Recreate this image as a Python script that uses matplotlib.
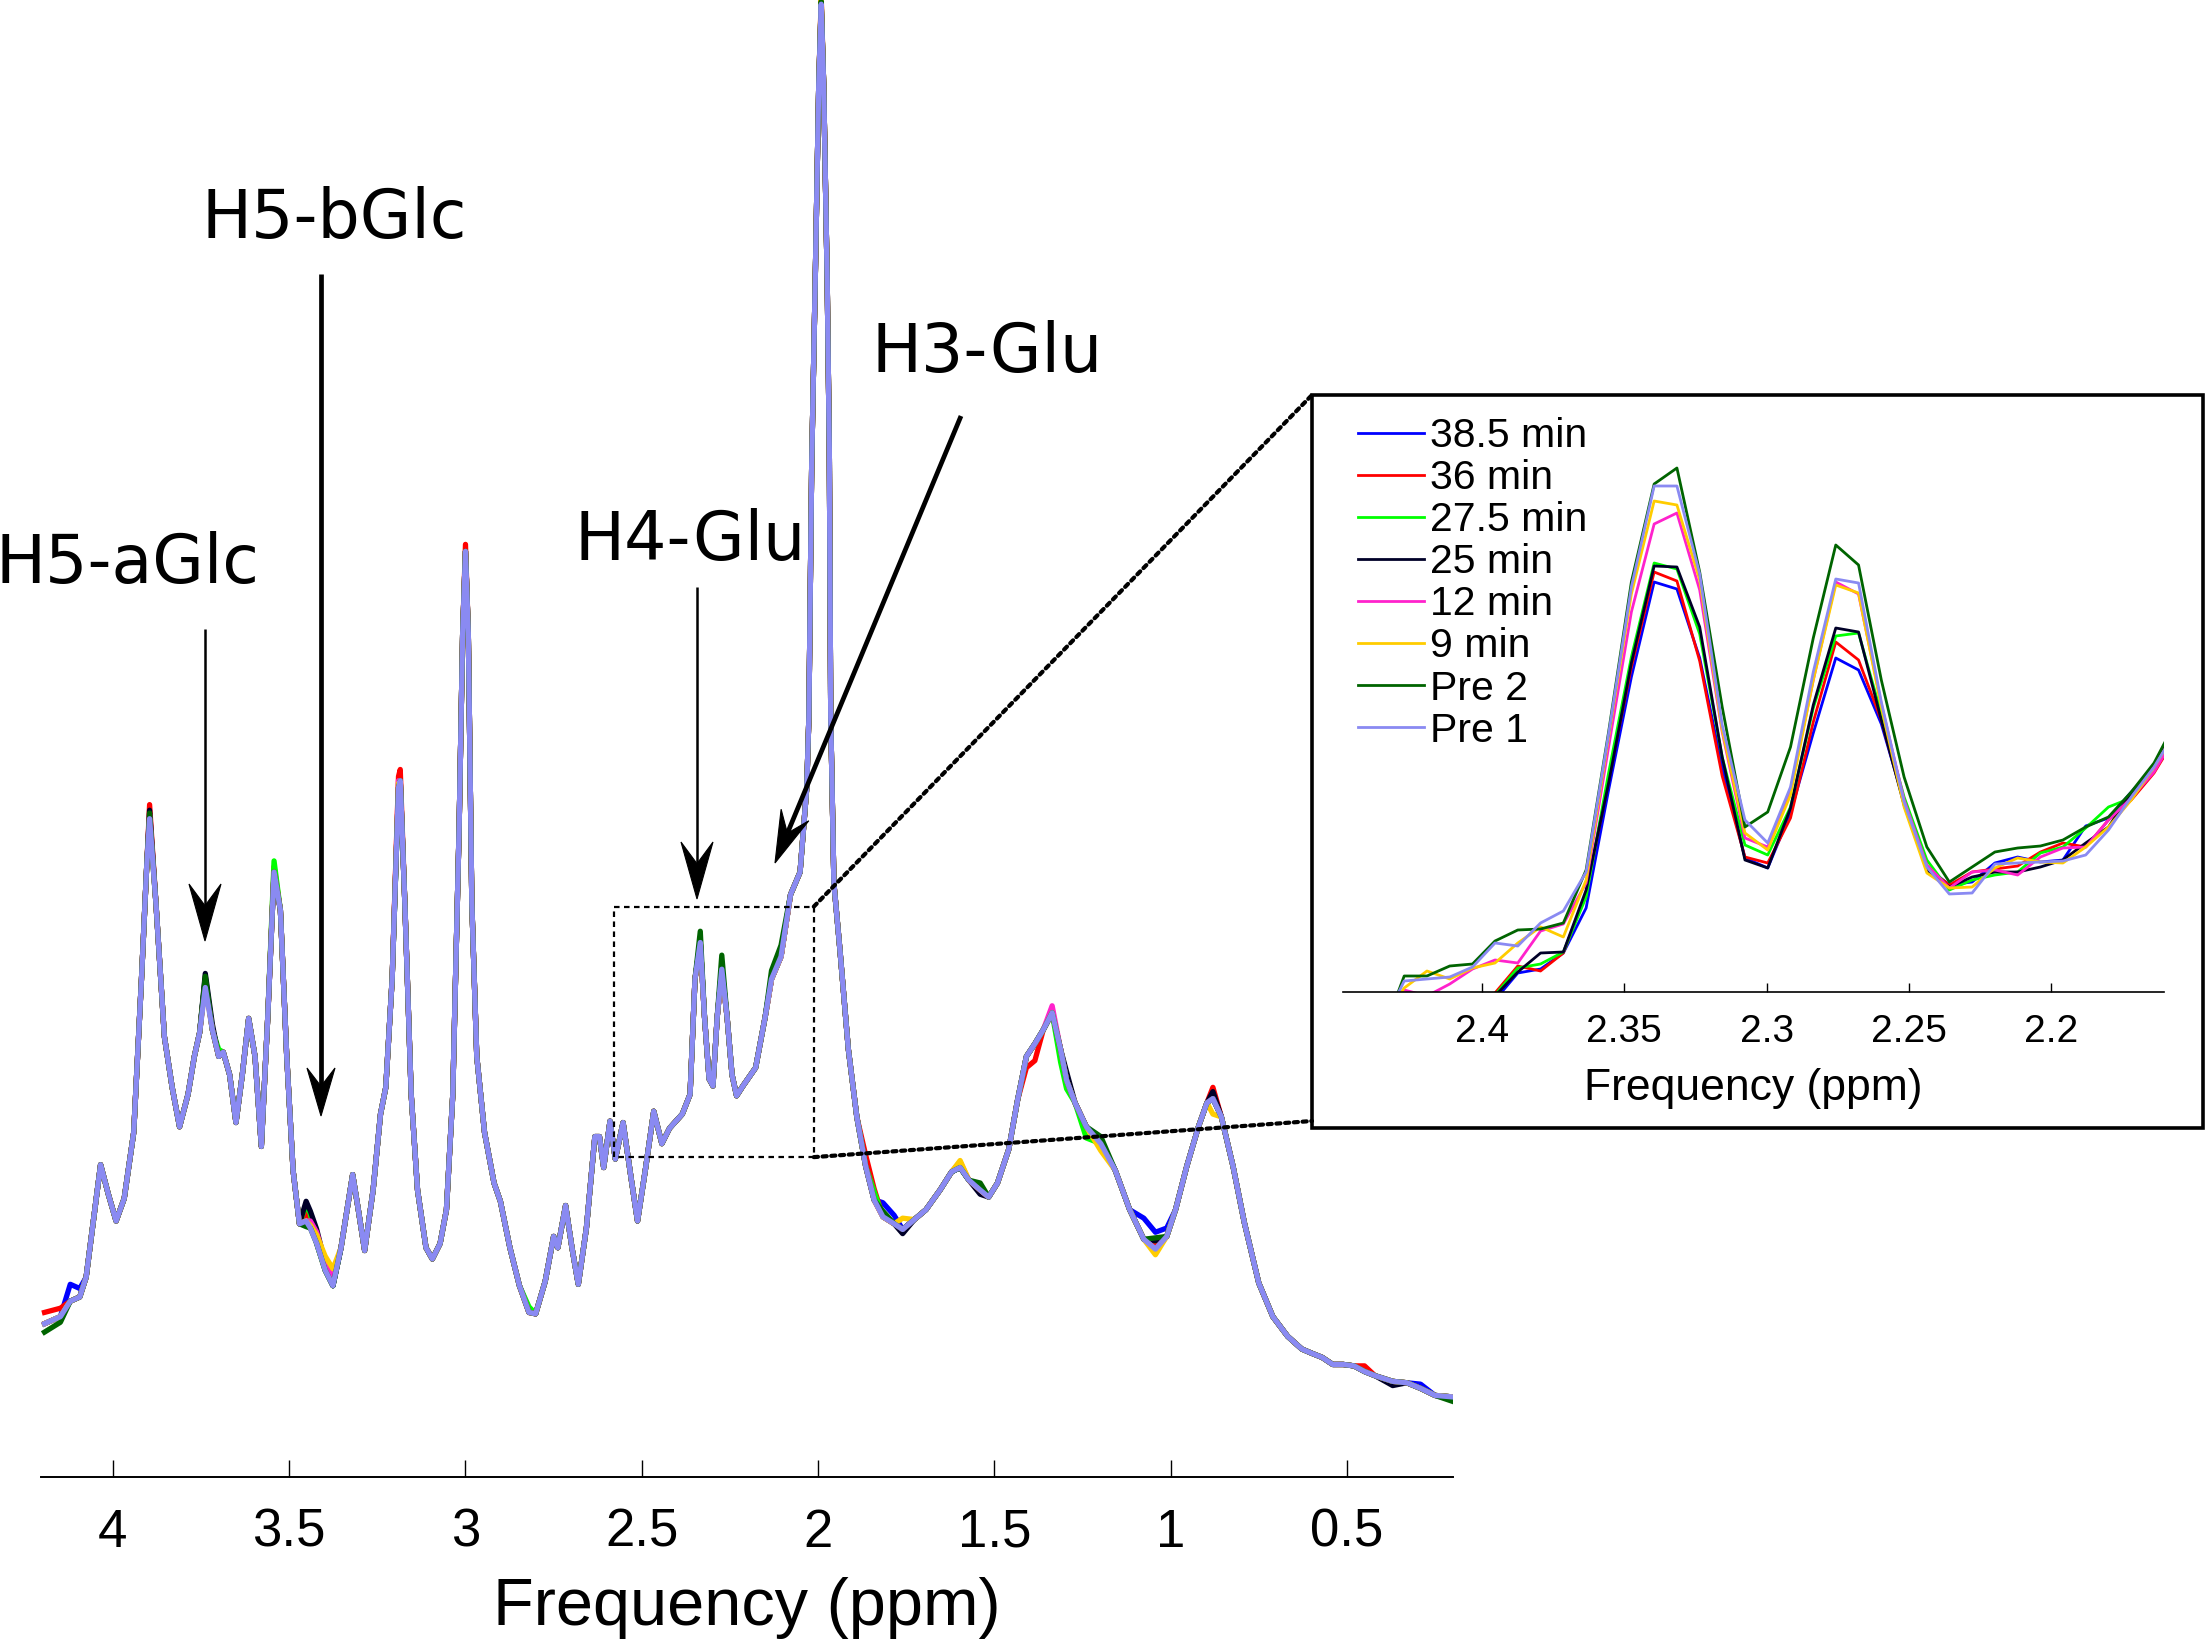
import numpy as np
import matplotlib
matplotlib.use("Agg")
import matplotlib.pyplot as plt
from matplotlib.patches import Rectangle, ConnectionPatch, Polygon
from matplotlib.lines import Line2D

plt.rcParams['font.family'] = ['Liberation Sans', 'DejaVu Sans']

W, H = 2206, 1642

# acquisitions, legend order (Pre 1 is drawn last, on top)
labels = ['38.5 min', '36 min', '27.5 min', '25 min', '12 min', '9 min', 'Pre 2', 'Pre 1']
colors = ['#0000ff', '#ff0000', '#00ff00', '#000028', '#ff22cc', '#ffcc00', '#006400', '#8a8af2']

# main spectrum, Pre 1 trace (ppm, a.u.)
main_ppm = [4.194, 4.149, 4.121, 4.094, 4.076, 4.058, 4.035, 4.013, 3.991, 3.968,
            3.941, 3.919, 3.904, 3.896, 3.878, 3.854, 3.832, 3.811, 3.787, 3.769,
            3.754, 3.738, 3.718, 3.700, 3.687, 3.669, 3.651, 3.633, 3.615, 3.597,
            3.579, 3.561, 3.543, 3.525, 3.507, 3.489, 3.471, 3.452, 3.440, 3.422,
            3.398, 3.376, 3.353, 3.320, 3.304, 3.286, 3.262, 3.241, 3.226, 3.208,
            3.190, 3.185, 3.172, 3.154, 3.136, 3.112, 3.094, 3.072, 3.054, 3.036,
            3.018, 3.008, 3.000, 2.992, 2.982, 2.968, 2.946, 2.919, 2.901, 2.874,
            2.847, 2.820, 2.801, 2.774, 2.750, 2.738, 2.716, 2.698, 2.680, 2.657,
            2.633, 2.620, 2.608, 2.590, 2.575, 2.553, 2.530, 2.512, 2.490, 2.466,
            2.443, 2.421, 2.385, 2.363, 2.349, 2.334, 2.322, 2.309, 2.298, 2.286,
            2.273, 2.258, 2.244, 2.231, 2.213, 2.177, 2.150, 2.132, 2.105, 2.078,
            2.051, 2.032, 2.026, 2.018, 2.008, 1.998, 1.991, 1.984, 1.974, 1.968,
            1.964, 1.955, 1.938, 1.914, 1.890, 1.865, 1.841, 1.816, 1.784, 1.760,
            1.727, 1.694, 1.654, 1.621, 1.597, 1.572, 1.540, 1.516, 1.491, 1.459,
            1.434, 1.409, 1.385, 1.361, 1.336, 1.312, 1.295, 1.271, 1.239, 1.198,
            1.157, 1.116, 1.076, 1.043, 1.011, 0.986, 0.954, 0.921, 0.897, 0.880,
            0.856, 0.823, 0.791, 0.750, 0.710, 0.668, 0.628, 0.600, 0.570, 0.540,
            0.510, 0.480, 0.450, 0.420, 0.370, 0.330, 0.291, 0.250, 0.203]
main_pre1 = [109, 114, 125, 128, 142, 177, 222, 201, 182, 198,
             245, 354, 435, 468, 408, 313, 277, 249, 272, 299,
             316, 348, 318, 299, 302, 286, 252, 286, 326, 299,
             235, 326, 430, 403, 299, 218, 180, 182, 177, 166,
             147, 136, 163, 215, 190, 161, 204, 258, 277, 354,
             490, 495, 408, 272, 204, 163, 155, 166, 190, 272,
             462, 600, 658, 600, 408, 299, 245, 209, 196, 163,
             136, 117, 116, 139, 171, 163, 193, 163, 137, 177,
             242, 242, 220, 253, 226, 252, 212, 182, 218, 260,
             237, 248, 258, 272, 354, 380, 327, 283, 278, 327,
             361, 327, 286, 271, 278, 291, 327, 354, 370, 414,
             430, 490, 540, 720, 850, 990, 1047, 990, 850, 730,
             540, 422, 375, 304, 256, 221, 197, 185, 180, 176,
             183, 190, 204, 217, 220, 211, 204, 199, 209, 233,
             268, 299, 308, 318, 330, 304, 282, 266, 249, 237,
             218, 190, 169, 162, 171, 190, 221, 249, 266, 269,
             256, 221, 181, 138, 114, 100, 91, 88, 85, 80,
             80, 79, 75, 72, 68, 67, 63, 58, 57]

# offsets of the other acquisitions from Pre 1, (ppm, a.u.)
dev_385 = [(4.121, 12), (4.094, 6), (3.738, 6), (3.452, 6), (3.440, 10), (3.422, 6),
           (2.820, 2), (1.816, 10), (1.784, 6), (1.076, 15), (1.043, 12), (1.011, 6),
           (0.880, 3), (0.291, 3)]
dev_36 = [(4.194, 8), (4.149, 6), (3.896, 10), (3.738, 6), (3.543, 4), (3.452, 6),
          (3.440, 6), (3.190, 8), (3.185, 8), (3.000, 5), (1.991, 5), (1.865, 8),
          (1.841, 8), (1.409, -8), (1.385, -12), (1.043, 4), (0.880, 8), (0.450, 4)]
dev_275 = [(3.738, 6), (3.700, 5), (3.543, 8), (3.452, 12), (3.440, 10), (2.820, 4),
           (1.841, 6), (1.312, -9), (1.295, -6), (1.239, -8), (1.043, 6)]
dev_25 = [(3.896, 6), (3.738, 10), (3.718, 4), (3.452, 14), (3.440, 12), (3.422, 10),
          (3.398, 5), (1.760, -3), (1.540, -3), (1.295, 6), (1.043, 6), (0.880, 5),
          (0.370, -3)]
dev_12 = [(3.896, 3), (3.738, 4), (3.440, 5), (3.422, 8), (3.398, 6), (3.376, 5),
          (3.190, 5), (1.597, 4), (1.336, 5), (0.203, -2)]
dev_9 = [(3.738, 2), (3.440, 2), (3.422, 6), (3.398, 10), (3.376, 12), (3.190, 3),
         (1.991, 3), (1.760, 8), (1.597, 5), (1.198, -5), (1.043, -4), (0.880, -11)]
dev_pre2 = [(4.194, -6), (4.149, -4), (3.896, 4), (3.738, 8), (3.452, -4), (2.334, 8),
            (2.273, 10), (2.132, 6), (2.105, 8), (1.991, 2), (1.816, 4), (1.540, 5),
            (1.198, 5), (1.043, 8), (0.203, -3)]
dev_pre1 = []

# inset: 2.16-2.45 ppm, raw points
ins_ppm = [2.4353, 2.4273, 2.4193, 2.4113, 2.4033, 2.3954, 2.3874, 2.3794, 2.3714, 2.3634,
           2.3555, 2.3475, 2.3395, 2.3315, 2.3235, 2.3156, 2.3076, 2.2996, 2.2916, 2.2836,
           2.2757, 2.2677, 2.2597, 2.2517, 2.2437, 2.2358, 2.2278, 2.2198, 2.2118, 2.2038,
           2.1959, 2.1879, 2.1799, 2.1719, 2.1639, 2.1560]
ins_385 = [-90, -70, -50, -35, -20, -8, 19, 23, 39, 84, 202, 315, 410, 403, 334, 225, 134, 124,
           179, 259, 334, 322, 268, 190, 125, 107, 110, 129, 135, 130, 132, 166, 174, 200, 225, 262]
ins_36 = [-90, -70, -50, -35, -20, -1, 26, 21, 39, 99, 212, 325, 420, 411, 331, 216, 135, 129,
          174, 270, 350, 332, 272, 189, 124, 107, 120, 123, 126, 140, 149, 145, 172, 192, 219, 256]
ins_275 = [-90, -70, -50, -35, -20, -3, 24, 28, 40, 95, 219, 335, 429, 423, 358, 235, 147, 137,
           185, 284, 356, 359, 278, 195, 132, 102, 112, 117, 120, 139, 145, 164, 185, 194, 225, 262]
ins_25 = [-90, -70, -50, -35, -20, -4, 20, 39, 40, 102, 209, 329, 426, 425, 365, 235, 132, 124,
          184, 287, 364, 360, 272, 187, 122, 105, 115, 120, 120, 125, 132, 149, 165, 199, 227, 264]
ins_12 = [-20, 2, -4, 8, 23, 32, 29, 61, 68, 109, 245, 380, 468, 479, 402, 260, 154, 145,
          202, 312, 410, 398, 288, 192, 127, 104, 120, 122, 117, 135, 144, 145, 172, 194, 220, 258]
ins_9 = [-30, 4, 21, 13, 24, 29, 49, 65, 55, 112, 255, 398, 491, 487, 412, 262, 159, 142,
         197, 312, 407, 399, 285, 185, 119, 104, 105, 124, 134, 130, 129, 145, 165, 192, 225, 262]
ins_pre2 = [-45, 16, 16, 26, 28, 51, 62, 63, 69, 122, 260, 410, 508, 524, 420, 285, 165, 180,
            245, 354, 447, 427, 312, 215, 145, 110, 125, 140, 144, 146, 152, 165, 175, 200, 229, 272]
ins_pre1 = [-35, 11, 13, 15, 25, 49, 46, 69, 81, 120, 258, 405, 506, 506, 418, 267, 172, 149,
            205, 320, 413, 409, 290, 190, 125, 98, 99, 128, 129, 130, 131, 137, 162, 195, 225, 262]

main_ticks = [4, 3.5, 3, 2.5, 2, 1.5, 1, 0.5]
main_ticklabels = ['4', '3.5', '3', '2.5', '2', '1.5', '1', '0.5']
ins_ticks = [2.4, 2.35, 2.3, 2.25, 2.2]
ins_ticklabels = ['2.4', '2.35', '2.3', '2.25', '2.2']

# peak labels: text, text position, arrow tail, arrow tip (figure pixels from top-left)
peaks = ['H5-aGlc', 'H5-bGlc', 'H4-Glu', 'H3-Glu']
peak_text_xy = [(-4, 583), (202, 238), (575, 560), (872, 372)]
peak_tail = [(205, 629), (321, 274), (697, 587), (961, 416)]
peak_tip = [(205, 941), (321, 1116), (697, 899), (775, 863)]
peak_lw = [1.8, 3.4, 1.8, 3.4]
peak_head = [(57, 16), (48, 14), (57, 16), (52, 15)]  # length, half width (px)


def fig_frac(x, y):
    return x / W, 1 - y / H


x_main = np.array(main_ppm)


def apply_dev(dev):
    y = np.array(main_pre1, dtype=float)
    for p, d in dev:
        y[np.argmin(np.abs(x_main - p))] += d
    return y


def notched_arrow(tail, tip, lw, head_len, half_w):
    # MATLAB-like arrow: straight shaft and a slim head with a concave back
    t = np.array(tail, float)
    p = np.array(tip, float)
    u = (p - t) / np.hypot(*(p - t))
    n = np.array([-u[1], u[0]])
    base = p - head_len * u
    notch = p - 0.62 * head_len * u
    pts = [p, base + half_w * n, notch, base - half_w * n]
    fig.add_artist(Polygon([fig_frac(*q) for q in pts], closed=True, transform=fig.transFigure,
                           fc='black', ec='black', lw=0.8, zorder=7))
    sx, sy = zip(fig_frac(*t), fig_frac(*notch))
    fig.add_artist(Line2D(sx, sy, transform=fig.transFigure, color='black', lw=lw,
                          solid_capstyle='butt', zorder=7))


main_devs = [dev_385, dev_36, dev_275, dev_25, dev_12, dev_9, dev_pre2, dev_pre1]
ins_series = [ins_385, ins_36, ins_275, ins_25, ins_12, ins_9, ins_pre2, ins_pre1]

fig = plt.figure(figsize=(W / 100, H / 100), dpi=100)

# main spectrum
ax = fig.add_axes([41 / W, 1 - 1477 / H, 1412 / W, 1477 / H])
for dev, c in zip(main_devs, colors):
    ax.plot(x_main, apply_dev(dev), color=c, lw=3.8, solid_joinstyle='round')
ax.set_xlim(4.204, 0.199)
ax.set_ylim(0, 1050)
for s in ['left', 'right', 'top']:
    ax.spines[s].set_visible(False)
ax.spines['bottom'].set_linewidth(1.4)
ax.set_yticks([])
ax.set_xticks(main_ticks)
ax.set_xticklabels(main_ticklabels)
ax.tick_params(axis='x', direction='in', length=12, width=1, labelsize=38, pad=22)
ax.set_xlabel('Frequency (ppm)', fontsize=48, labelpad=14)

# zoom window on the spectrum
ax.add_patch(Rectangle((2.012, 227.4), 0.567, 178.1, fill=False, ec='black',
                       lw=1.6, ls=(0, (2.5, 2)), zorder=5, clip_on=False))

# inset frame and connectors
box_x, box_y = fig_frac(1312, 1128)
fig.add_artist(Rectangle((box_x, box_y), 891 / W, 733 / H, transform=fig.transFigure,
                         fill=False, ec='black', lw=2.6, zorder=6))
for (px, py), (bx, by) in [((2.012, 405.5), (1312, 395)), ((2.012, 227.4), (1312, 1121))]:
    fig.add_artist(ConnectionPatch(xyA=(px, py), coordsA=ax.transData,
                                   xyB=fig_frac(bx, by), coordsB=fig.transFigure,
                                   color='black', lw=3, ls=(0, (1, 1.1)), zorder=6))

# peak annotations
for name, (tx, ty), tail, tip, lw, (hl, hw) in zip(peaks, peak_text_xy, peak_tail, peak_tip,
                                                  peak_lw, peak_head):
    fig.text(tx / W, 1 - ty / H, name, fontsize=48, family='DejaVu Sans',
             ha='left', va='baseline')
    notched_arrow(tail, tip, lw, hl, hw)

# inset
ax_in = fig.add_axes([1343 / W, 1 - 992 / H, 821 / W, 597 / H])
ax_in.patch.set_alpha(0)
for ys, c, lab in zip(ins_series, colors, labels):
    ax_in.plot(ins_ppm, ys, color=c, lw=2.0, label=lab)
ax_in.set_xlim(2.4488, 2.1604)
ax_in.set_ylim(0, 597)
for s in ['left', 'right', 'top']:
    ax_in.spines[s].set_visible(False)
ax_in.spines['bottom'].set_linewidth(1.2)
ax_in.set_yticks([])
ax_in.set_xticks(ins_ticks)
ax_in.set_xticklabels(ins_ticklabels)
ax_in.tick_params(axis='x', direction='in', length=6.5, width=1, labelsize=28, pad=16)
ax_in.set_xlabel('Frequency (ppm)', fontsize=32, labelpad=13)
ax_in.legend(loc='upper left', bbox_to_anchor=fig_frac(1358, 417), bbox_transform=fig.transFigure,
             frameon=False, fontsize=29.5, handlelength=1.62, handletextpad=0.14,
             labelspacing=0.10, borderpad=0, borderaxespad=0)

fig.savefig('out.png', dpi=100)
